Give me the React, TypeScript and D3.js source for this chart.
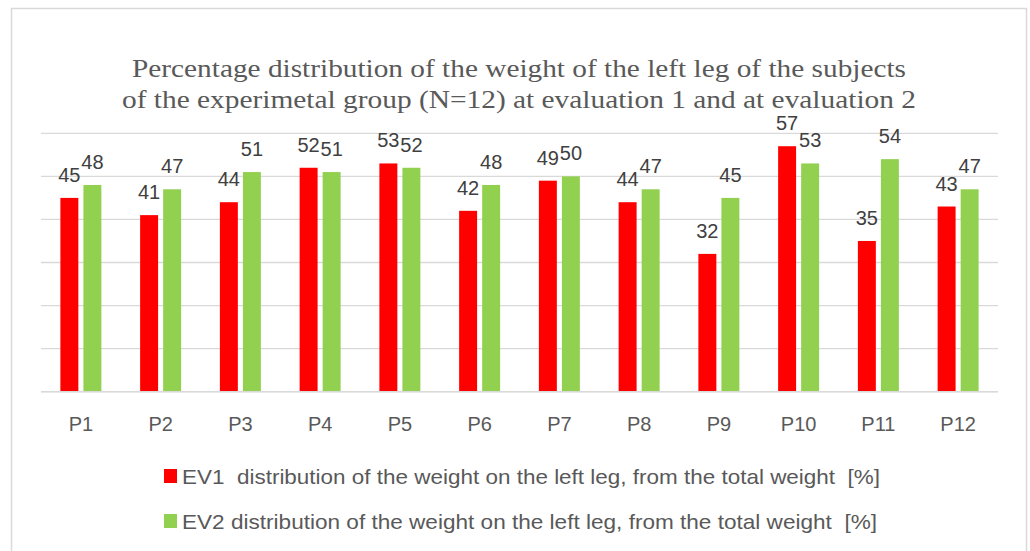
import React, { useEffect, useRef } from 'react';
import * as d3 from 'd3';

// categories and values
const subjects = ['P1', 'P2', 'P3', 'P4', 'P5', 'P6', 'P7', 'P8', 'P9', 'P10', 'P11', 'P12'];
const ev1 = [45, 41, 44, 52, 53, 42, 49, 44, 32, 57, 35, 43];
const ev2 = [48, 47, 51, 51, 52, 48, 50, 47, 45, 53, 54, 47];
const yTicks = [0, 10, 20, 30, 40, 50, 60];
const seriesNames = ['EV1', 'EV2'];
const legendLabels = [
  'EV1  distribution of the weight on the left leg, from the total weight  [%]',
  'EV2 distribution of the weight on the left leg, from the total weight  [%]',
];
const titleLines = [
  'Percentage distribution of the weight of the left leg of the subjects',
  'of the experimetal group (N=12) at evaluation 1 and at evaluation 2',
];

const W = 1030;
const H = 551;

const App = () => {
  const svgRef = useRef<SVGSVGElement>(null);

  useEffect(() => {
    const svg = d3.select(svgRef.current);
    svg.selectAll('*').remove();

    const sans = "'Liberation Sans', Arial, sans-serif";
    const colors = ['#ff0000', '#92d050'];
    const plot = { left: 41, right: 998, top: 133.3, bottom: 391.7 };

    // outer frame (bottom edge is cut off in the reference)
    svg.append('path')
      .attr('d', `M11.5,${H} V8.5 H1026.5 V${H}`)
      .attr('fill', 'none')
      .attr('stroke', '#d9d9d9')
      .attr('stroke-width', 1.5);

    // title, stretched a little to the width of the original serif face
    const titleWidths = [774, 794];
    svg.append('g')
      .selectAll('text')
      .data(titleLines)
      .join('text')
      .attr('x', 519)
      .attr('y', (d, i) => 77 + i * 31)
      .attr('text-anchor', 'middle')
      .attr('font-family', "'Liberation Serif', 'Times New Roman', serif")
      .attr('font-size', 26)
      .attr('textLength', (d, i) => titleWidths[i])
      .attr('lengthAdjust', 'spacingAndGlyphs')
      .attr('fill', '#595959')
      .text(d => d);

    const x0 = d3.scaleBand()
      .domain(subjects)
      .range([plot.left, plot.right])
      .paddingInner(0.486)
      .paddingOuter(0.243);

    const x1 = d3.scaleBand()
      .domain(seriesNames)
      .range([0, x0.bandwidth()])
      .paddingInner(0.22);

    const y = d3.scaleLinear()
      .domain([0, 60])
      .range([plot.bottom, plot.top]);

    // gridlines
    svg.append('g')
      .selectAll('line')
      .data(yTicks)
      .join('line')
      .attr('x1', plot.left)
      .attr('x2', plot.right)
      .attr('y1', d => y(d))
      .attr('y2', d => y(d))
      .attr('stroke', '#d9d9d9')
      .attr('stroke-width', 1.3);

    const rows = subjects.map((s, i) => ({ s, vals: [ev1[i], ev2[i]] }));

    const groups = svg.append('g')
      .selectAll('g')
      .data(rows)
      .join('g')
      .attr('transform', d => `translate(${x0(d.s)},0)`);

    groups.selectAll('rect')
      .data(d => d.vals.map((v, k) => ({ k, v })))
      .join('rect')
      .attr('x', d => x1(seriesNames[d.k]))
      .attr('y', d => y(d.v))
      .attr('width', x1.bandwidth())
      .attr('height', d => y(0) - y(d.v))
      .attr('fill', d => colors[d.k]);

    // data labels
    groups.selectAll('text')
      .data(d => d.vals.map((v, k) => ({ k, v })))
      .join('text')
      .attr('x', d => x1(seriesNames[d.k]) + x1.bandwidth() / 2)
      .attr('y', d => y(d.v) - 16)
      .attr('text-anchor', 'middle')
      .attr('font-family', sans)
      .attr('font-size', 20)
      .attr('fill', '#404040')
      .text(d => d.v);

    // baseline drawn over the bars
    svg.append('line')
      .attr('x1', plot.left)
      .attr('x2', plot.right)
      .attr('y1', y(0))
      .attr('y2', y(0))
      .attr('stroke', '#d9d9d9')
      .attr('stroke-width', 1.5);

    // x axis labels
    const xAxis = svg.append('g')
      .attr('transform', `translate(0,${y(0)})`)
      .call(d3.axisBottom(x0).tickSize(0).tickPadding(0));
    xAxis.select('.domain').remove();
    xAxis.selectAll('text')
      .attr('dy', null)
      .attr('y', 39)
      .attr('font-family', sans)
      .attr('font-size', 20)
      .attr('fill', '#595959');

    // legend
    const legendWidths = [698, 695];
    const legend = svg.append('g')
      .selectAll('g')
      .data(legendLabels)
      .join('g')
      .attr('transform', (d, i) => `translate(164,${476 + i * 45})`);

    legend.append('rect')
      .attr('x', 0)
      .attr('y', -7)
      .attr('width', 13)
      .attr('height', 14)
      .attr('fill', (d, i) => colors[i]);

    legend.append('text')
      .attr('x', 18)
      .attr('y', 7.5)
      .attr('font-family', sans)
      .attr('font-size', 21)
      .attr('textLength', (d, i) => legendWidths[i])
      .attr('lengthAdjust', 'spacingAndGlyphs')
      .style('white-space', 'pre')
      .attr('fill', '#595959')
      .text(d => d);
  }, []);

  return (
    <svg
      ref={svgRef}
      width={W}
      height={H}
      style={{ position: 'absolute', left: 0, top: 0, background: '#fff' }}
    />
  );
};

export default App;
